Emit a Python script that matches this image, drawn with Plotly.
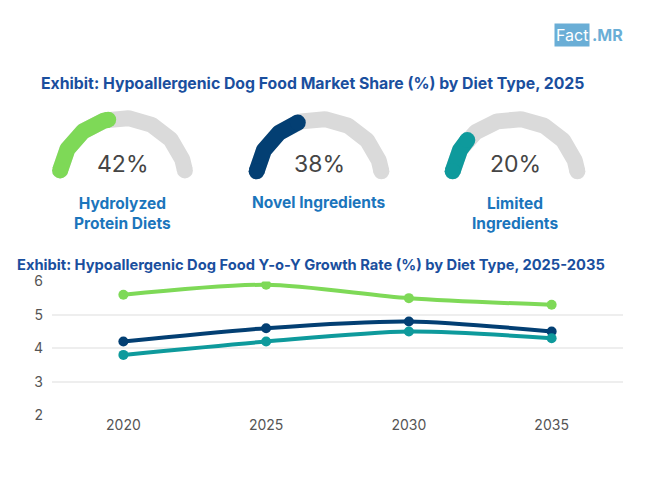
import numpy as np
import plotly.graph_objects as go

# --- data ---
diet_types = ["Hydrolyzed<br>Protein Diets", "Novel Ingredients", "Limited<br>Ingredients"]
share_2025 = [42, 38, 20]
share_colors = ["#7ED957", "#033F73", "#0E9A9C"]

years = ["2020", "2025", "2030", "2035"]
growth_hydrolyzed = [5.6, 5.9, 5.5, 5.3]
growth_novel = [4.2, 4.6, 4.8, 4.5]
growth_limited = [3.8, 4.2, 4.5, 4.3]
y_ticks = [2, 3, 4, 5, 6]

W, H = 650, 487
TITLE_BLUE = "#1A4F9E"
LABEL_BLUE = "#1B75BC"
FONT = "Inter"

fig = go.Figure()

# --- gauges (drawn on a pixel-scaled hidden axis pair) ---
centers = [(122.5, 176), (319, 177), (515, 177)]
radius = 63
a_start, a_end = 172, 8


def arc(cx, cy, a0, a1, n=120):
    t = np.radians(np.linspace(a0, a1, n))
    return cx + radius * np.cos(t), cy - radius * np.sin(t)


for (cx, cy), val, col, lab in zip(centers, share_2025, share_colors, diet_types):
    gx, gy = arc(cx, cy, a_start, a_end)
    a_val = a_start - (a_start - a_end) * val / 100
    vx, vy = arc(cx, cy, a_start, a_val)
    for xs, ys, c in [(gx, gy, "#DADADA"), (vx, vy, col)]:
        fig.add_trace(go.Scatter(
            x=xs, y=ys, mode="lines", xaxis="x2", yaxis="y2",
            line=dict(color=c, width=16), hoverinfo="skip", showlegend=False))
        fig.add_trace(go.Scatter(
            x=[xs[0], xs[-1]], y=[ys[0], ys[-1]], mode="markers", xaxis="x2", yaxis="y2",
            marker=dict(color=c, size=16, line=dict(width=0)),
            hoverinfo="skip", showlegend=False))
    fig.add_annotation(x=cx, y=161, xref="x2", yref="y2", text=f"{val}%",
                       showarrow=False, font=dict(family=FONT, size=23, color="#454545"))
    fig.add_annotation(x=cx, y=201, xref="x2", yref="y2", text=f"<b>{lab}</b>",
                       showarrow=False, yanchor="top" if "<br>" in lab else "middle",
                       yshift=11 if "<br>" in lab else 0,
                       font=dict(family=FONT, size=15.5, color=LABEL_BLUE))

# --- growth lines ---
for vals, col, name in [(growth_hydrolyzed, share_colors[0], "Hydrolyzed Protein Diets"),
                        (growth_novel, share_colors[1], "Novel Ingredients"),
                        (growth_limited, share_colors[2], "Limited Ingredients")]:
    fig.add_trace(go.Scatter(
        x=years, y=vals, mode="lines+markers", name=name,
        line=dict(color=col, width=4, shape="spline", smoothing=0.8),
        marker=dict(color=col, size=10), showlegend=False))

# titles and logo
fig.add_annotation(x=39, y=77, xref="x2", yref="y2", xanchor="left",
                   text="<b>Exhibit: Hypoallergenic Dog Food Market Share (%) by Diet Type, 2025</b>",
                   showarrow=False, font=dict(family=FONT, size=15.8, color=TITLE_BLUE))
fig.add_annotation(x=15, y=265, xref="x2", yref="y2", xanchor="left",
                   text="<b>Exhibit: Hypoallergenic Dog Food Y-o-Y Growth Rate (%) by Diet Type, 2025-2035</b>",
                   showarrow=False, font=dict(family=FONT, size=14.7, color=TITLE_BLUE))
fig.add_annotation(x=590, y=27, xref="x2", yref="y2", xanchor="right", text="Fact",
                   showarrow=False, bgcolor="#6AAED6", borderpad=1,
                   font=dict(family=FONT, size=16, color="white"))
fig.add_annotation(x=590, y=27, xref="x2", yref="y2", xanchor="left", text="<b>.MR</b>",
                   showarrow=False, font=dict(family=FONT, size=16, color="#6AAED6"))

y_lo = (H - 420.7) / H
y_hi = (H - 282.3) / H
fig.update_layout(
    width=W, height=H,
    margin=dict(l=0, r=0, t=0, b=0),
    paper_bgcolor="white", plot_bgcolor="rgba(0,0,0,0)",
    xaxis=dict(domain=[52 / W, 623 / W], type="category", range=[-0.5, 3.5],
               showgrid=False, showline=False, zeroline=False, ticks="",
               tickfont=dict(family=FONT, size=14, color="#555555")),
    yaxis=dict(domain=[y_lo, y_hi], range=[2, 6], tickvals=y_ticks,
               showgrid=True, gridcolor="#EEEEEE", gridwidth=1.5, zeroline=False,
               showline=False, ticks="", ticklabelstandoff=8,
               tickfont=dict(family=FONT, size=14, color="#555555")),
    xaxis2=dict(domain=[0, 1], range=[0, W], visible=False, anchor="y2", fixedrange=True),
    yaxis2=dict(domain=[0, 1], range=[H, 0], visible=False, anchor="x2", fixedrange=True),
)

fig.write_html("out.html", config={"displayModeBar": False},
               post_script="document.body.style.margin='0';")
